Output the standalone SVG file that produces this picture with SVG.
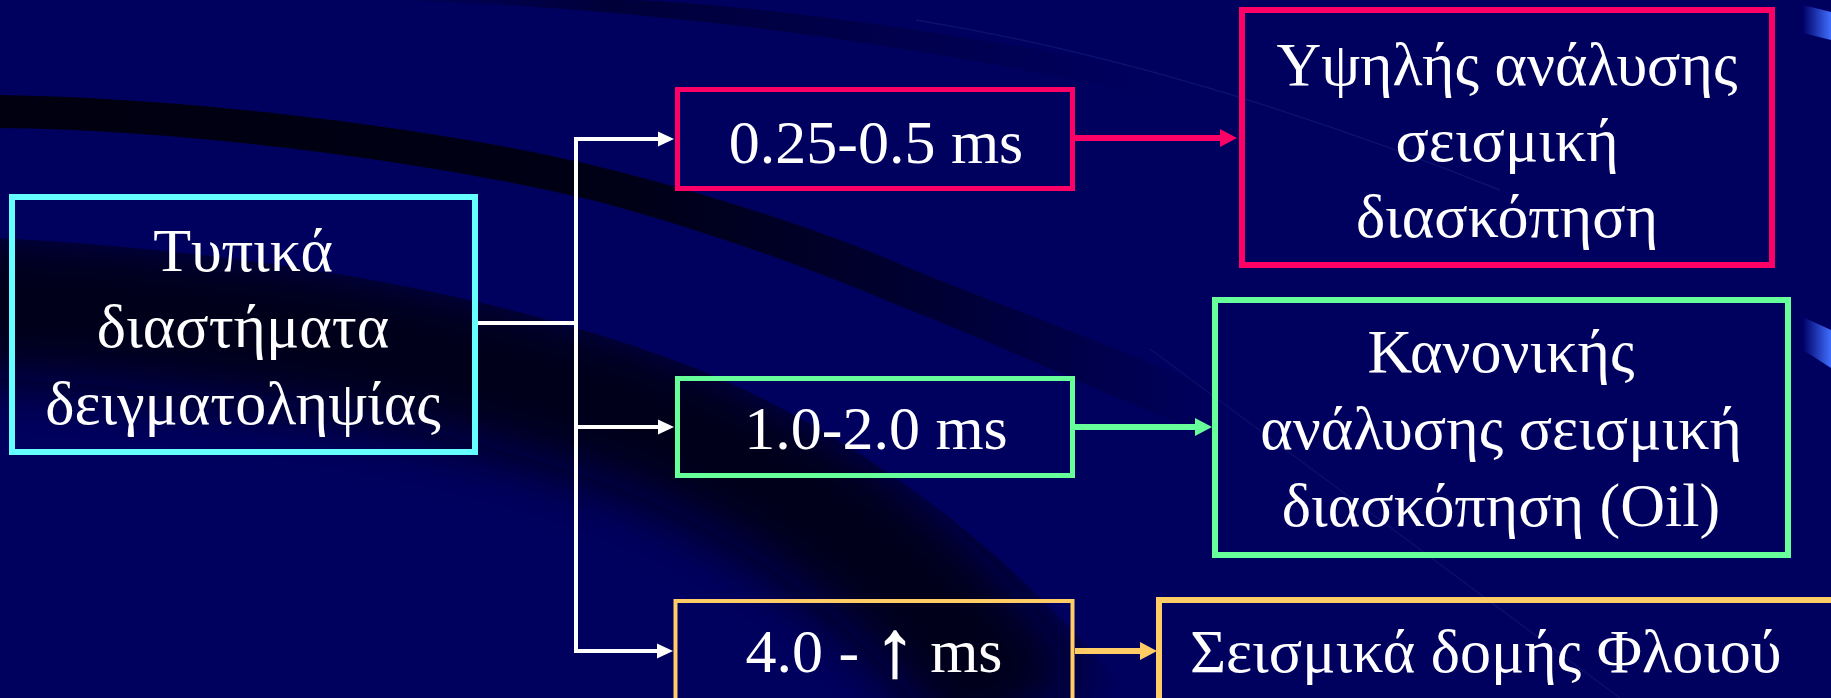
<svg xmlns="http://www.w3.org/2000/svg" width="1831" height="698" viewBox="0 0 1831 698">
  <style>
    .box { fill: none; }
    .lbl { font-family: "Liberation Serif", "Times New Roman", serif; font-size: 62px; fill: #ffffff; text-anchor: middle; }
    .sym { font-size: 80px; stroke: #ffffff; stroke-width: 1.6; }
    .wire { fill: none; stroke: #ffffff; stroke-width: 4; }
    .pink { stroke: #ff0066; }
    .green { stroke: #66ff99; }
    .gold { stroke: #ffcc66; }
    .cyan { stroke: #66ffff; }
  </style>
  <defs>
    <marker id="headWhite" markerUnits="userSpaceOnUse" markerWidth="16" markerHeight="16" refX="0" refY="8" orient="auto" overflow="visible">
      <path d="M0,0.5 L16,8 L0,15.5 Z" fill="#ffffff"/>
    </marker>
    <marker id="headPink" markerUnits="userSpaceOnUse" markerWidth="17" markerHeight="18" refX="0" refY="9" orient="auto" overflow="visible">
      <path d="M0,0 L17,9 L0,18 Z" fill="#ff0066"/>
    </marker>
    <marker id="headGreen" markerUnits="userSpaceOnUse" markerWidth="17" markerHeight="18" refX="0" refY="9" orient="auto" overflow="visible">
      <path d="M0,0 L17,9 L0,18 Z" fill="#66ff99"/>
    </marker>
    <marker id="headGold" markerUnits="userSpaceOnUse" markerWidth="17" markerHeight="18" refX="0" refY="9" orient="auto" overflow="visible">
      <path d="M0,0 L17,9 L0,18 Z" fill="#ffcc66"/>
    </marker>
    <linearGradient id="bandFade" gradientUnits="userSpaceOnUse" x1="0" y1="0" x2="1220" y2="0">
      <stop offset="0" stop-color="#00000c" stop-opacity="0.95"/>
      <stop offset="0.5" stop-color="#00000c" stop-opacity="0.88"/>
      <stop offset="0.75" stop-color="#00000c" stop-opacity="0.55"/>
      <stop offset="1" stop-color="#00000c" stop-opacity="0"/>
    </linearGradient>
    <linearGradient id="topFade" gradientUnits="userSpaceOnUse" x1="380" y1="0" x2="1150" y2="0">
      <stop offset="0" stop-color="#000020" stop-opacity="0"/>
      <stop offset="0.3" stop-color="#000020" stop-opacity="0.6"/>
      <stop offset="1" stop-color="#000020" stop-opacity="0"/>
    </linearGradient>
    <linearGradient id="glint" x1="0" y1="0" x2="1" y2="0">
      <stop offset="0" stop-color="#000066"/>
      <stop offset="1" stop-color="#3f6fff"/>
    </linearGradient>
    <clipPath id="wedgeClip">
      <path d="M0,238 C300,255 520,300 700,370 C870,440 1020,560 1132,698 L0,698 Z"/>
    </clipPath>
    <filter id="soft" x="-20%" y="-50%" width="140%" height="200%">
      <feGaussianBlur stdDeviation="28"/>
    </filter>
  </defs>

  <!-- backdrop with sweeping dark ribbons -->
  <g id="backdrop">
    <rect x="0" y="0" width="1831" height="698" fill="#00005e"/>
    <path d="M380,0 C620,6 860,34 1150,95 L1150,70 C900,22 700,0 620,0 Z" fill="url(#topFade)"/>
    <g clip-path="url(#wedgeClip)">
      <path d="M-60,300 C260,315 480,355 650,420 C800,480 930,580 1020,720" fill="none" stroke="#000010" stroke-opacity="0.85" stroke-width="150" filter="url(#soft)"/>
    </g>
    <path d="M0,95 C200,98 450,130 600,167 C720,197 820,230 900,264 C980,298 1100,340 1220,392 L1220,440 C1100,392 1000,345 900,306 C820,272 720,235 600,202 C450,165 200,130 0,128 Z" fill="url(#bandFade)"/>
    <path d="M916,20 C1100,50 1300,110 1500,190" fill="none" stroke="#3040a0" stroke-opacity="0.25" stroke-width="1.5"/>
    <path d="M1150,349 C1300,460 1450,570 1620,698" fill="none" stroke="#3040a0" stroke-opacity="0.2" stroke-width="1.5"/>
    <polygon points="1803,5 1831,12 1831,40 1803,33" fill="url(#glint)"/>
    <polygon points="1803,317 1831,330 1831,368 1803,350" fill="url(#glint)"/>
  </g>

  <!-- connectors -->
  <g id="connectors">
    <path class="wire" d="M478,323 H576 M576,139 V651"/>
    <line class="wire" x1="574" y1="139" x2="658" y2="139" marker-end="url(#headWhite)"/>
    <line class="wire" x1="574" y1="427" x2="658" y2="427" marker-end="url(#headWhite)"/>
    <line class="wire" x1="574" y1="651" x2="657" y2="651" marker-end="url(#headWhite)"/>
    <line class="pink" stroke-width="6" x1="1075" y1="138" x2="1220" y2="138" marker-end="url(#headPink)"/>
    <line class="green" stroke-width="6" x1="1075" y1="427" x2="1195" y2="427" marker-end="url(#headGreen)"/>
    <line class="gold" stroke-width="6" x1="1075" y1="651" x2="1140" y2="651" marker-end="url(#headGold)"/>
  </g>

  <g id="node-sampling">
    <rect class="box cyan" x="12" y="197" width="463" height="255" stroke-width="6"/>
    <text class="lbl" x="243" y="271">Τυπικά</text>
    <text class="lbl" x="243" y="347">διαστήματα</text>
    <text class="lbl" x="243" y="424">δειγματοληψίας</text>
  </g>

  <g id="node-fine">
    <rect class="box pink" x="677.5" y="89.5" width="395" height="99" stroke-width="5"/>
    <text class="lbl" x="876" y="163">0.25-0.5 ms</text>
  </g>

  <g id="node-high-res">
    <rect class="box pink" x="1242" y="10" width="530" height="255" stroke-width="6"/>
    <text class="lbl" x="1507" y="85">Υψηλής ανάλυσης</text>
    <text class="lbl" x="1507" y="161">σεισμική</text>
    <text class="lbl" x="1507" y="237">διασκόπηση</text>
  </g>

  <g id="node-standard">
    <rect class="box green" x="677.5" y="378.5" width="395" height="97" stroke-width="5"/>
    <text class="lbl" x="876" y="449">1.0-2.0 ms</text>
  </g>

  <g id="node-oil">
    <rect class="box green" x="1215" y="300" width="573" height="255" stroke-width="6"/>
    <text class="lbl" x="1501" y="372">Κανονικής</text>
    <text class="lbl" x="1501" y="449">ανάλυσης σεισμική</text>
    <text class="lbl" x="1501" y="526">διασκόπηση (Oil)</text>
  </g>

  <g id="node-coarse">
    <rect class="box gold" x="675.5" y="601" width="397" height="130" stroke-width="4"/>
    <text class="lbl" x="874" y="672">4.0 - <tspan class="sym" dy="4">↑</tspan><tspan dy="-4"> ms</tspan></text>
  </g>

  <g id="node-crust">
    <rect class="box gold" x="1159" y="600" width="720" height="150" stroke-width="6"/>
    <text class="lbl" x="1190" y="672" style="text-anchor:start">Σεισμικά δομής Φλοιού</text>
  </g>
</svg>
